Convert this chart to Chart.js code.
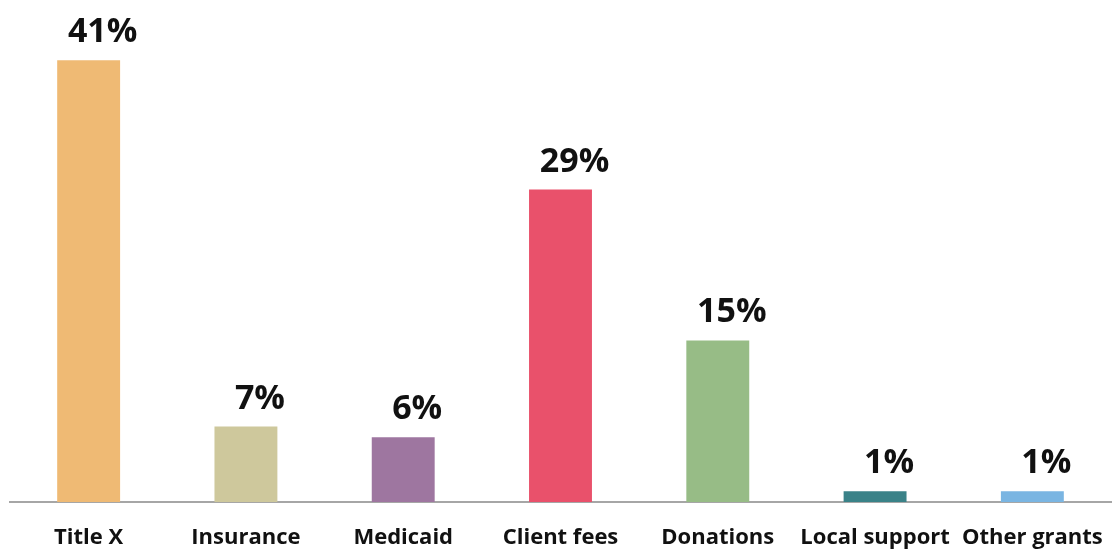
<!DOCTYPE html>
<html>
<head>
<meta charset="utf-8">
<script src="https://cdn.jsdelivr.net/npm/chart.js@4"></script>
<style>
  html, body { margin: 0; padding: 0; background: #fff; }
  #wrap { width: 1118px; height: 552px; }
</style>
</head>
<body>
<div id="wrap"><canvas id="barChart"></canvas></div>
<script>
// Chart data
const categories = ['Title X', 'Insurance', 'Medicaid', 'Client fees', 'Donations', 'Local support', 'Other grants'];
const shares = [41, 7, 6, 29, 15, 1, 1];
const barColors = ['#EFBA74', '#CEC89C', '#9E76A0', '#E9516B', '#97BC86', '#3A8288', '#7AB5E2'];

const FONT = '"Open Sans", Lato, sans-serif';

// Draw the percent labels above each bar
const valueLabels = {
    id: 'valueLabels',
    afterDatasetsDraw(chart) {
        const ctx = chart.ctx;
        const meta = chart.getDatasetMeta(0);
        ctx.save();
        ctx.font = 'bold 34px ' + FONT;
        ctx.fillStyle = '#111';
        ctx.textAlign = 'center';
        ctx.textBaseline = 'alphabetic';
        meta.data.forEach(function(bar, i) {
            ctx.fillText(shares[i] + '%', bar.x + 14, bar.y - 18);
        });
        ctx.restore();
    }
};

document.addEventListener('DOMContentLoaded', function() {
    const ctx = document.getElementById('barChart').getContext('2d');

    new Chart(ctx, {
        type: 'bar',
        data: {
            labels: categories,
            datasets: [{
                data: shares,
                backgroundColor: barColors,
                categoryPercentage: 1,
                barPercentage: 0.4
            }]
        },
        options: {
            responsive: true,
            maintainAspectRatio: false,
            animation: false,
            layout: { padding: { left: 10, right: 7, top: 0, bottom: 0 } },
            plugins: {
                legend: { display: false },
                tooltip: { enabled: false }
            },
            scales: {
                x: {
                    grid: { display: false, drawTicks: false },
                    border: { display: true, color: '#A6A6A6', width: 2 },
                    ticks: {
                        color: '#111',
                        padding: 23,
                        maxRotation: 0,
                        autoSkip: false,
                        font: { family: FONT, size: 22, weight: 'bold' }
                    },
                    afterFit: function(scale) {
                        scale.height = 50;
                        scale.paddingLeft = 0;
                        scale.paddingRight = 0;
                    }
                },
                y: {
                    display: false,
                    min: 0,
                    max: 46.6
                }
            }
        },
        plugins: [valueLabels]
    });
});
</script>
</body>
</html>
